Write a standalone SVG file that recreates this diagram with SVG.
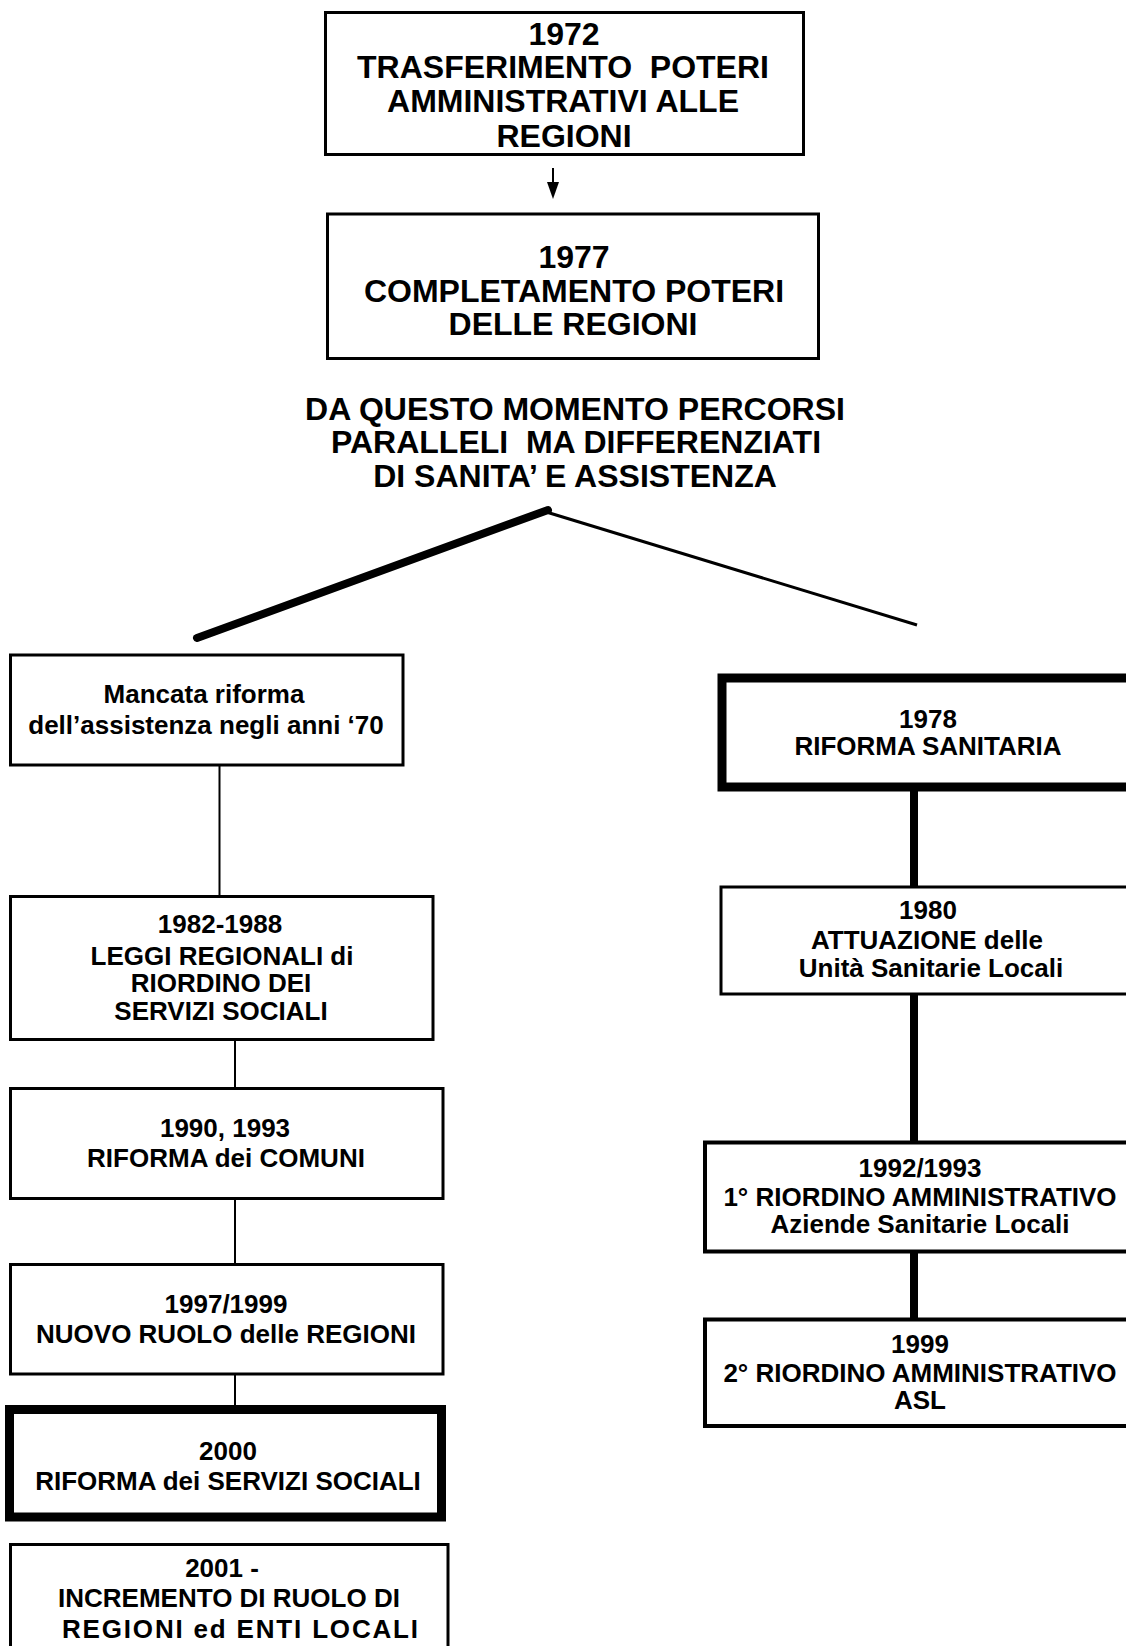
<svg xmlns="http://www.w3.org/2000/svg" width="1126" height="1646" viewBox="0 0 1126 1646">
  <style>
    .box { fill: #fff; stroke: #000; stroke-width: 3; }
    .box4 { fill: #fff; stroke: #000; stroke-width: 4; }
    .thick { fill: #fff; stroke: #000; stroke-width: 9; }
    .big { font-family: "Liberation Sans", Arial, sans-serif; font-weight: bold; font-size: 32px; text-anchor: middle; fill: #000; white-space: pre; }
    .lbl { font-family: "Liberation Sans", Arial, sans-serif; font-weight: bold; font-size: 26px; text-anchor: middle; fill: #000; }
    .thin { stroke: #000; stroke-width: 2; fill: none; }
    .bold { stroke: #000; stroke-width: 8; fill: none; }
  </style>
  <rect width="1126" height="1646" fill="#fff"/>

  <!-- connectors -->
  <g id="connectors">
    <line class="thin" x1="553" y1="168" x2="553" y2="184"/>
    <polygon points="547,182 559,182 553,199" fill="#000"/>
    <line x1="197" y1="638" x2="548" y2="510" stroke="#000" stroke-width="8" stroke-linecap="round"/>
    <line x1="543" y1="511" x2="917" y2="625" stroke="#000" stroke-width="3"/>
    <line class="thin" x1="219.5" y1="766" x2="219.5" y2="896"/>
    <line class="thin" x1="235" y1="1040" x2="235" y2="1088"/>
    <line class="thin" x1="235" y1="1200" x2="235" y2="1264"/>
    <line class="thin" x1="235" y1="1375" x2="235" y2="1406"/>
    <line class="bold" x1="914" y1="791" x2="914" y2="886"/>
    <line class="bold" x1="914" y1="995" x2="914" y2="1141"/>
    <line class="bold" x1="914" y1="1253" x2="914" y2="1318"/>
  </g>

  <g id="n1972">
    <rect class="box" x="325.5" y="12.5" width="478" height="142"/>
    <text class="big" x="564" y="45">1972</text>
    <text class="big" x="563" y="78">TRASFERIMENTO  POTERI</text>
    <text class="big" x="563" y="112">AMMINISTRATIVI ALLE</text>
    <text class="big" x="564" y="147">REGIONI</text>
  </g>

  <g id="n1977">
    <rect class="box" x="327.5" y="214" width="491" height="144.5"/>
    <text class="big" x="574" y="268">1977</text>
    <text class="big" x="574" y="302">COMPLETAMENTO POTERI</text>
    <text class="big" x="573" y="335">DELLE REGIONI</text>
  </g>

  <g id="percorsi">
    <text class="big" x="575" y="420">DA QUESTO MOMENTO PERCORSI</text>
    <text class="big" x="576" y="453">PARALLELI  MA DIFFERENZIATI</text>
    <text class="big" x="575" y="487">DI SANITA’ E ASSISTENZA</text>
  </g>

  <g id="mancata">
    <rect class="box" x="10.5" y="655" width="392.5" height="110"/>
    <text class="lbl" x="204" y="703">Mancata riforma</text>
    <text class="lbl" x="206" y="734">dell’assistenza negli anni ‘70</text>
  </g>

  <g id="n1982">
    <rect class="box" x="10.5" y="896.5" width="422.5" height="143"/>
    <text class="lbl" x="220" y="933">1982-1988</text>
    <text class="lbl" x="222" y="965">LEGGI REGIONALI di</text>
    <text class="lbl" x="221" y="992">RIORDINO DEI</text>
    <text class="lbl" x="221" y="1020">SERVIZI SOCIALI</text>
  </g>

  <g id="n1990">
    <rect class="box" x="10.5" y="1088.5" width="432.5" height="110"/>
    <text class="lbl" x="225" y="1137">1990, 1993</text>
    <text class="lbl" x="226" y="1167">RIFORMA dei COMUNI</text>
  </g>

  <g id="n1997">
    <rect class="box" x="10.5" y="1264.5" width="432.5" height="109.5"/>
    <text class="lbl" x="226" y="1313">1997/1999</text>
    <text class="lbl" x="226" y="1343">NUOVO RUOLO delle REGIONI</text>
  </g>

  <g id="n2000">
    <rect class="thick" x="9.5" y="1409.5" width="432" height="107.5"/>
    <text class="lbl" x="228" y="1460">2000</text>
    <text class="lbl" x="228" y="1490">RIFORMA dei SERVIZI SOCIALI</text>
  </g>

  <g id="n2001">
    <rect class="box" x="10.5" y="1544.5" width="437.5" height="130"/>
    <text class="lbl" x="222" y="1577">2001 -</text>
    <text class="lbl" x="229" y="1607">INCREMENTO DI RUOLO DI</text>
    <text class="lbl" x="240" y="1638" textLength="356" lengthAdjust="spacing">REGIONI ed ENTI LOCALI</text>
  </g>

  <g id="n1978">
    <rect class="thick" x="722" y="678" width="430" height="109"/>
    <text class="lbl" x="928" y="728">1978</text>
    <text class="lbl" x="928" y="755">RIFORMA SANITARIA</text>
  </g>

  <g id="n1980">
    <rect class="box" x="721" y="887" width="430" height="107"/>
    <text class="lbl" x="928" y="919">1980</text>
    <text class="lbl" x="927" y="949">ATTUAZIONE delle</text>
    <text class="lbl" x="931" y="977">Unità Sanitarie Locali</text>
  </g>

  <g id="n1992">
    <rect class="box4" x="705" y="1142.5" width="440" height="109"/>
    <text class="lbl" x="920" y="1177">1992/1993</text>
    <text class="lbl" x="920" y="1206">1° RIORDINO AMMINISTRATIVO</text>
    <text class="lbl" x="920" y="1233">Aziende Sanitarie Locali</text>
  </g>

  <g id="n1999">
    <rect class="box4" x="705" y="1319.5" width="440" height="106.5"/>
    <text class="lbl" x="920" y="1353">1999</text>
    <text class="lbl" x="920" y="1382">2° RIORDINO AMMINISTRATIVO</text>
    <text class="lbl" x="920" y="1409">ASL</text>
  </g>
</svg>
